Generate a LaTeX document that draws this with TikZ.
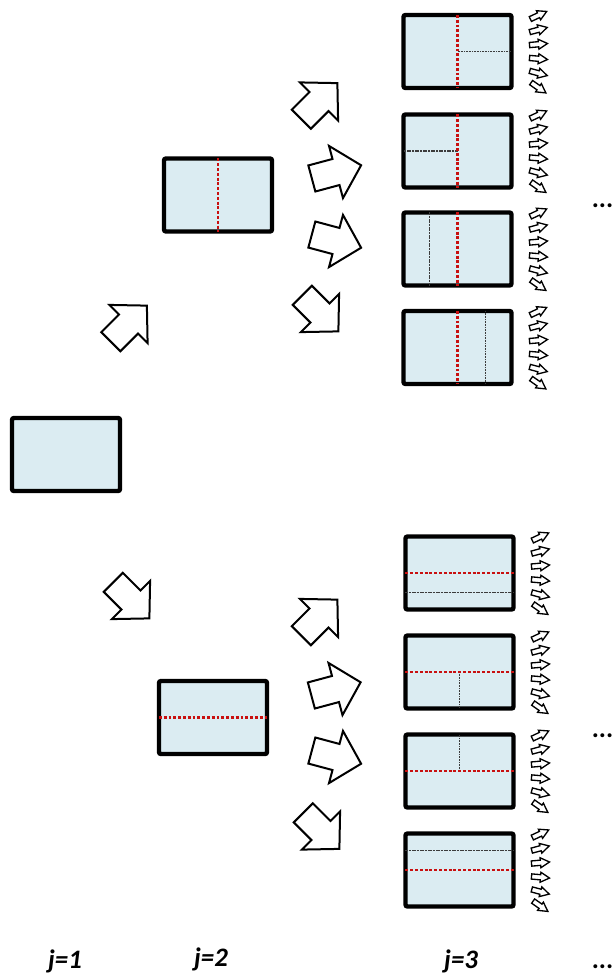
\documentclass[tikz,border=0pt]{standalone}
\usepackage{fontspec}
\setmainfont{Carlito}
\usepackage{tikz}
\usetikzlibrary{calc}
\definecolor{cellfill}{RGB}{219, 236, 242}
\definecolor{cutred}{RGB}{200, 16, 16}
\definecolor{splitgray}{RGB}{60, 60, 60}

\tikzset{
  pics/bigarrow/.style={code={
    \draw[line width=1.5pt, fill=white]
      (-25,-13.5) -- (0,-13.5) -- (0,-27) -- (26,0) -- (0,27) -- (0,13.5) -- (-25,13.5) -- cycle;
  }},
  pics/tinyarrow/.style={code={
    \draw[line width=1pt, fill=white]
      (-9,-2.6) -- (0,-2.6) -- (0,-5) -- (9,0) -- (0,5) -- (0,2.6) -- (-9,2.6) -- cycle;
  }}
}

\begin{document}
\begin{tikzpicture}[x=0.75pt, y=-0.75pt,
  cell/.style={draw=black, line width=3.3pt, rounded corners=1.5pt, fill=cellfill, minimum width=81pt, minimum height=54.75pt, inner sep=0pt},
  cut/.style={draw=cutred, line width=1.6pt, dash pattern=on 2.2pt off 1.4pt, shorten <=1.6pt, shorten >=1.6pt},
  split/.style={draw=splitgray, line width=0.8pt, dash pattern=on 0.8pt off 0.4pt},
  lbl/.style={font=\fontsize{20}{24}\selectfont\bfseries\itshape, anchor=base, inner sep=0pt}]
  \useasboundingbox (0,0) rectangle (614,979);

  % j=1
  \node[cell] (r) at (66,454.5) {};

  % j=2
  \node[cell] (v) at (218,195) {};
  \node[cell] (h) at (213,717.5) {};
  \draw[cut] (v.north) -- (v.south);
  \draw[cut] (h.west) -- (h.east);

  % j=3
  \foreach \i/\y in {1/51.5, 2/151, 3/249, 4/347.5}
    \node[cell] (vv\i) at (457.5,\y) {};
  \foreach \i/\y in {1/573, 2/672, 3/771, 4/870}
    \node[cell] (hh\i) at (459.5,\y) {};

  \draw[split, shorten >=1.6pt] (vv1.center) -- (vv1.east);
  \draw[split, shorten >=1.6pt] (vv2.center) -- (vv2.west);
  \draw[split, shorten <=1.6pt, shorten >=1.6pt] ($(vv3.north)!.5!(vv3.north west)$) -- ($(vv3.south)!.5!(vv3.south west)$);
  \draw[split, shorten <=1.6pt, shorten >=1.6pt] ($(vv4.north)!.5!(vv4.north east)$) -- ($(vv4.south)!.5!(vv4.south east)$);
  \draw[split, shorten <=1.6pt, shorten >=1.6pt] ($(hh1.west)!.5!(hh1.south west)$) -- ($(hh1.east)!.5!(hh1.south east)$);
  \draw[split, shorten >=1.6pt] (hh2.center) -- (hh2.south);
  \draw[split, shorten >=1.6pt] (hh3.center) -- (hh3.north);
  \draw[split, shorten <=1.6pt, shorten >=1.6pt] ($(hh4.west)!.5!(hh4.north west)$) -- ($(hh4.east)!.5!(hh4.north east)$);

  \foreach \i in {1,...,4} {
    \draw[cut] (vv\i.north) -- (vv\i.south);
    \draw[cut] (hh\i.west) -- (hh\i.east);
  }

  % moves between levels
  \pic[rotate=45] (rv) at (128.5,324) {bigarrow};
  \pic[rotate=-45] (rh) at (131,600) {bigarrow};
  \foreach \a/\x/\y in {45/319/101.5, 15/336/172, -15/336/241, -45/320/313}
    \pic[rotate=\a] at (\x,\y) {bigarrow};
  \foreach \a/\x/\y in {45/319/618, 15/335.5/689, -15/336/757, -45/321/830.5}
    \pic[rotate=\a] at (\x,\y) {bigarrow};

  % fan of next moves
  \foreach \n in {vv1,vv2,vv3,vv4,hh1,hh2,hh3,hh4}
    \foreach \k/\a in {0/25, 1/15, 2/5, 3/-5, 4/-15, 5/-35}
      \pic[rotate=\a] at ($(\n.center)+(81,{(\k-2.5)*14.5})$) {tinyarrow};

  \node[lbl] (j1) at (65,968) {j=1};
  \node[lbl] (j2) at (211,966) {j=2};
  \node[lbl] (j3) at (461,968) {j=3};
  \node[lbl] (more1) at (603,207) {...};
  \node[lbl] (more2) at (603,737) {...};
  \node[lbl] (more3) at (603,968) {...};
\end{tikzpicture}
\end{document}
